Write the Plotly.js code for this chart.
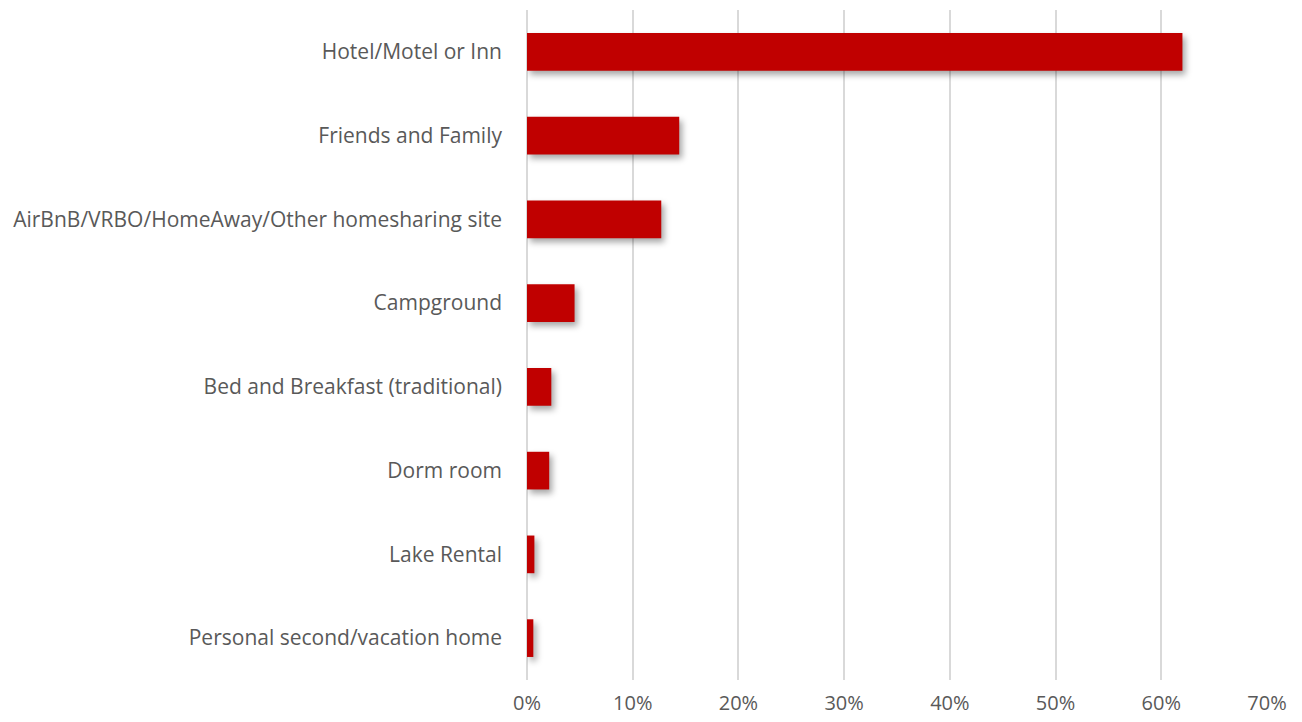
<!DOCTYPE html>
<html>
<head>
<meta charset="utf-8">
<script src="https://cdn.plot.ly/plotly-3.0.1.min.js"></script>
<style>
html,body{margin:0;padding:0;background:#fff;}
#chart{width:1302px;height:722px;}
.barlayer .point path{filter:drop-shadow(3px 4px 3px rgba(0,0,0,0.35));}
</style>
</head>
<body>
<div id="chart"></div>
<script>
const categories = [
  "Hotel/Motel or Inn",
  "Friends and Family",
  "AirBnB/VRBO/HomeAway/Other homesharing site",
  "Campground",
  "Bed and Breakfast (traditional)",
  "Dorm room",
  "Lake Rental",
  "Personal second/vacation home"
];
const shares = [62.0, 14.4, 12.7, 4.5, 2.3, 2.1, 0.7, 0.6];
const xTicks = [0, 10, 20, 30, 40, 50, 60, 70];
const xTickLabels = ["0%", "10%", "20%", "30%", "40%", "50%", "60%", "70%"];

const trace = {
  type: "bar",
  orientation: "h",
  y: categories,
  x: shares,
  marker: {color: "#c00000"},
  hoverinfo: "x+y"
};

const layout = {
  width: 1302,
  height: 722,
  margin: {l: 527, r: 35, t: 10, b: 42},
  paper_bgcolor: "#ffffff",
  plot_bgcolor: "#ffffff",
  bargap: 0.55,
  showlegend: false,
  font: {family: "Open Sans, sans-serif", size: 21, color: "#595959"},
  xaxis: {
    range: [0, 70],
    tickvals: xTicks,
    ticktext: xTickLabels,
    showgrid: true,
    gridcolor: "#d9d9d9",
    gridwidth: 2,
    zeroline: true,
    zerolinecolor: "#d9d9d9",
    zerolinewidth: 2,
    showline: false,
    ticks: "",
    ticklabelstandoff: 9,
    tickfont: {size: 20, color: "#595959"}
  },
  yaxis: {
    type: "category",
    categoryorder: "array",
    categoryarray: categories,
    autorange: "reversed",
    showgrid: false,
    zeroline: false,
    showline: false,
    ticks: "",
    ticklabelstandoff: 24,
    tickfont: {size: 21, color: "#595959"}
  }
};

Plotly.newPlot("chart", [trace], layout, {displayModeBar: false, staticPlot: true});
</script>
</body>
</html>
